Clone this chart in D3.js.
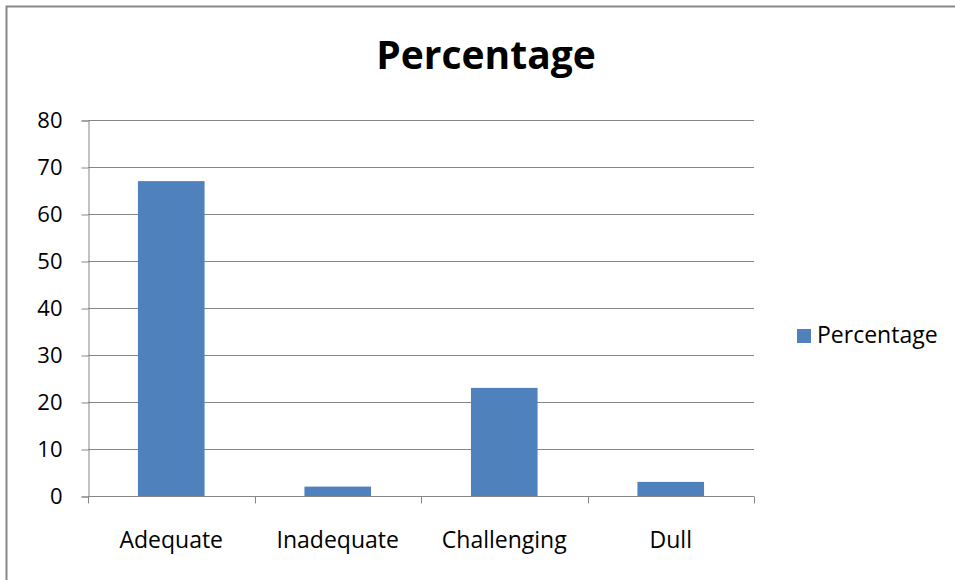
<!DOCTYPE html>
<html>
<head>
<meta charset="utf-8">
<script src="https://cdn.jsdelivr.net/npm/d3@7/dist/d3.min.js"></script>
<style>
  html, body { margin: 0; padding: 0; background: #fff; }
  svg { display: block; }
  text { font-family: "Open Sans", "Noto Sans", sans-serif; fill: #000; }
</style>
</head>
<body>
<svg id="chart" width="955" height="580"></svg>
<script>
// Chart data
const categories = ["Adequate", "Inadequate", "Challenging", "Dull"];
const percentages = [67, 2, 23, 3];
const yTicks = [0, 10, 20, 30, 40, 50, 60, 70, 80];
const seriesName = "Percentage";
const chartTitle = "Percentage";

const W = 955, H = 580;
const plot = { left: 88, right: 754, top: 120, bottom: 496 };
const gridColor = "#868686";
const barColor = "#4f81bd";

const svg = d3.select("#chart");

// Outer frame (top and left edges of the chart area)
svg.append("path")
  .attr("d", `M6.5,${H} V6.5 H${W}`)
  .attr("fill", "none")
  .attr("stroke", "#878787")
  .attr("stroke-width", 2);

const x = d3.scaleBand()
  .domain(categories)
  .range([plot.left, plot.right])
  .padding(0);

const y = d3.scaleLinear()
  .domain([0, 80])
  .range([plot.bottom, plot.top]);

// Horizontal gridlines
svg.append("g")
  .selectAll("line")
  .data(yTicks.filter(d => d > 0))
  .join("line")
  .attr("x1", plot.left)
  .attr("x2", plot.right)
  .attr("y1", d => y(d) + 0.5)
  .attr("y2", d => y(d) + 0.5)
  .attr("stroke", gridColor)
  .attr("stroke-width", 1);

// Bars: 40% of the category width, centred
const barW = x.bandwidth() * 0.4;
svg.append("g")
  .selectAll("rect")
  .data(categories.map((c, i) => ({ c, v: percentages[i] })))
  .join("rect")
  .attr("x", d => x(d.c) + (x.bandwidth() - barW) / 2)
  .attr("width", barW)
  .attr("y", d => y(d.v))
  .attr("height", d => y(0) - y(d.v))
  .attr("fill", barColor);

// Y axis
const yAxis = d3.axisLeft(y)
  .tickValues(yTicks)
  .tickSize(7)
  .tickPadding(19)
  .tickFormat(d3.format("d"));
const gy = svg.append("g")
  .attr("transform", `translate(${plot.left + 0.5},0.5)`)
  .call(yAxis);
gy.select(".domain").attr("stroke", gridColor);
gy.selectAll(".tick line").attr("stroke", gridColor);
gy.selectAll(".tick text")
  .attr("font-size", 22)
  .attr("font-family", "'Open Sans', sans-serif")
  .attr("fill", "#000");

// X axis with ticks on category boundaries
const gx = svg.append("g")
  .attr("transform", `translate(0,${plot.bottom + 0.5})`);
gx.append("line")
  .attr("x1", plot.left).attr("x2", plot.right)
  .attr("stroke", gridColor);
const boundaries = categories.map(c => x(c)).concat([x(categories[categories.length - 1]) + x.bandwidth()]);
gx.selectAll("line.tk")
  .data(boundaries)
  .join("line")
  .attr("class", "tk")
  .attr("x1", d => Math.round(d) + 0.5)
  .attr("x2", d => Math.round(d) + 0.5)
  .attr("y1", 0)
  .attr("y2", 7)
  .attr("stroke", gridColor);
gx.selectAll("text")
  .data(categories)
  .join("text")
  .attr("x", d => x(d) + x.bandwidth() / 2)
  .attr("y", 51)
  .attr("text-anchor", "middle")
  .attr("font-size", 23)
  .text(d => d);

// Title
svg.append("text")
  .attr("x", 486)
  .attr("y", 69)
  .attr("text-anchor", "middle")
  .attr("font-size", 39)
  .attr("font-weight", "bold")
  .text(chartTitle);

// Legend
const lg = svg.append("g").attr("transform", "translate(797,329)");
lg.append("rect")
  .attr("width", 14).attr("height", 14)
  .attr("fill", barColor);
lg.append("text")
  .attr("x", 20)
  .attr("y", 14)
  .attr("font-size", 23)
  .text(seriesName);
</script>
</body>
</html>
